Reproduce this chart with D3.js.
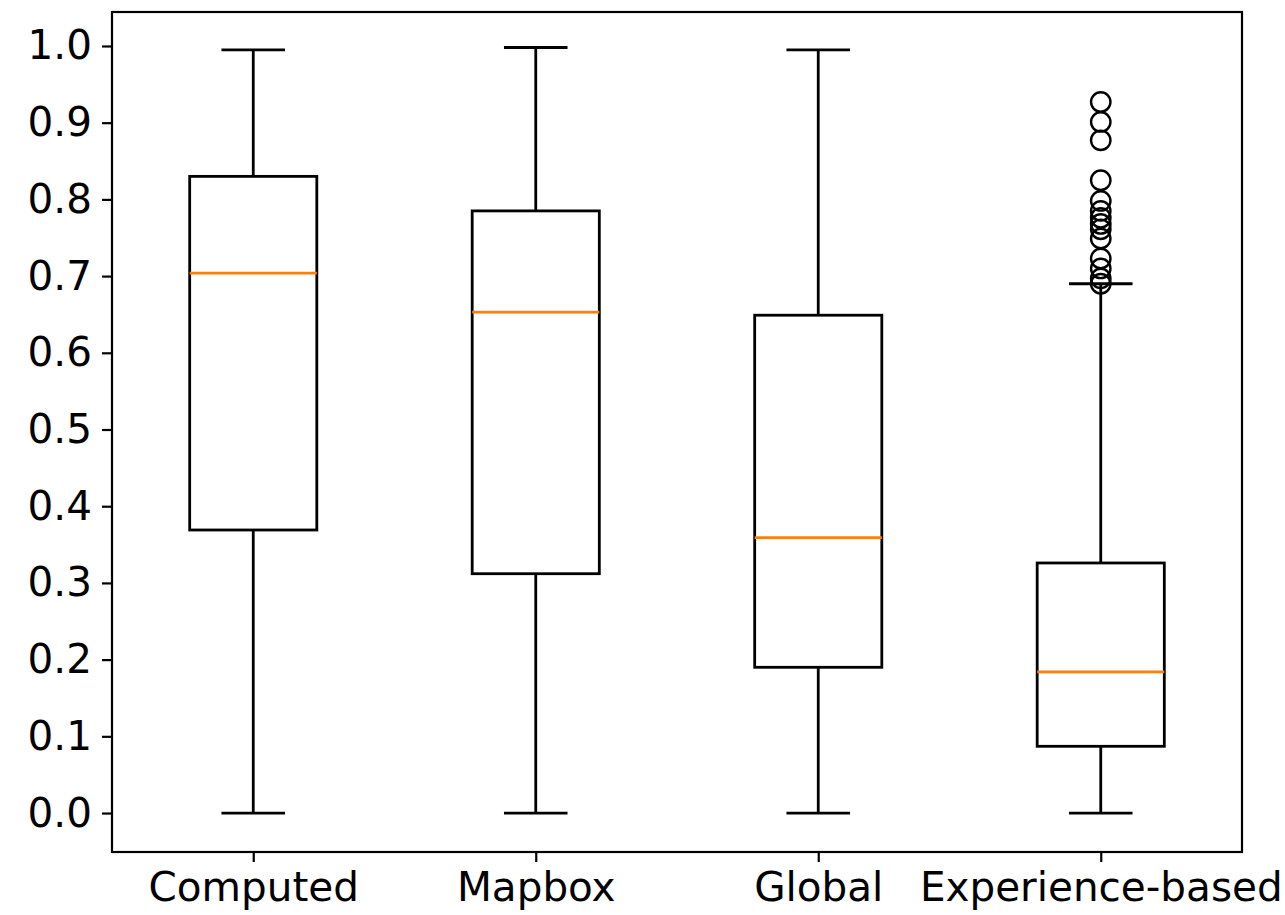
<!DOCTYPE html>
<html><head><meta charset="utf-8">
<script src="https://cdn.jsdelivr.net/npm/d3@7"></script>
<style>body{margin:0;background:#fff}svg{display:block}text{font-family:"DejaVu Sans",sans-serif;fill:#000}</style>
</head><body>
<svg id="c" width="1285" height="915"></svg>
<script>
const categories = ["Computed", "Mapbox", "Global", "Experience-based"];
const whiskerLow = [0.0, 0.0, 0.0, 0.0];
const q1 = [0.369, 0.312, 0.190, 0.087];
const medians = [0.704, 0.653, 0.359, 0.184];
const q3 = [0.830, 0.785, 0.649, 0.326];
const whiskerHigh = [0.995, 0.998, 0.995, 0.690];
const outliersExp = [0.927, 0.901, 0.877, 0.825, 0.798, 0.785, 0.776, 0.768, 0.761, 0.749, 0.723, 0.710, 0.697, 0.690];
const yTicks = [0.0, 0.1, 0.2, 0.3, 0.4, 0.5, 0.6, 0.7, 0.8, 0.9, 1.0];

const svg = d3.select("#c");
const L = 112, R = 1242, T = 12, B = 852;
const x = d3.scaleLinear().domain([0.5, 4.5]).range([L, R]);
const y = d3.scaleLinear().domain([-0.0508, 1.0443]).range([B, T]);
const boxW = 0.45, capW = 0.225;

const data = categories.map((c, i) => ({c, pos: i + 1, lo: whiskerLow[i], q1: q1[i], med: medians[i], q3: q3[i], hi: whiskerHigh[i], out: i === 3 ? outliersExp : []}));

const g = svg.append("g");
data.forEach(d => {
  const lw = 2.8;
  g.append("line").attr("x1", x(d.pos)).attr("x2", x(d.pos)).attr("y1", y(d.q1)).attr("y2", y(d.lo)).attr("stroke", "#000").attr("stroke-width", lw);
  g.append("line").attr("x1", x(d.pos)).attr("x2", x(d.pos)).attr("y1", y(d.q3)).attr("y2", y(d.hi)).attr("stroke", "#000").attr("stroke-width", lw);
  [d.lo, d.hi].forEach(v => g.append("line").attr("x1", x(d.pos - capW / 2)).attr("x2", x(d.pos + capW / 2)).attr("y1", y(v)).attr("y2", y(v)).attr("stroke", "#000").attr("stroke-width", lw));
  g.append("rect").attr("x", x(d.pos - boxW / 2)).attr("width", x(d.pos + boxW / 2) - x(d.pos - boxW / 2))
    .attr("y", y(d.q3)).attr("height", y(d.q1) - y(d.q3)).attr("fill", "none").attr("stroke", "#000").attr("stroke-width", lw);
  g.append("line").attr("x1", x(d.pos - boxW / 2)).attr("x2", x(d.pos + boxW / 2)).attr("y1", y(d.med)).attr("y2", y(d.med)).attr("stroke", "#ff7f0e").attr("stroke-width", lw);
  g.selectAll(null).data(d.out).enter().append("circle").attr("cx", x(d.pos)).attr("cy", v => y(v)).attr("r", 9.7)
    .attr("fill", "none").attr("stroke", "#000").attr("stroke-width", 2.4);
});

svg.append("rect").attr("x", L).attr("y", T).attr("width", R - L).attr("height", B - T).attr("fill", "none").attr("stroke", "#000").attr("stroke-width", 2.2);

const yAxis = d3.axisLeft(y).tickValues(yTicks).tickFormat(d3.format(".1f")).tickSize(10).tickPadding(10);
const ya = svg.append("g").attr("transform", `translate(${L},0)`).call(yAxis);
ya.select(".domain").remove();
ya.selectAll(".tick line").attr("stroke", "#000").attr("stroke-width", 2.2);
ya.selectAll(".tick text").attr("font-size", 40.5).attr("font-family", "DejaVu Sans").attr("fill", "#000");

const xAxis = d3.axisBottom(x).tickValues([1, 2, 3, 4]).tickFormat((d) => categories[d - 1]).tickSize(10).tickPadding(10);
const xa = svg.append("g").attr("transform", `translate(0,${B})`).call(xAxis);
xa.select(".domain").remove();
xa.selectAll(".tick line").attr("stroke", "#000").attr("stroke-width", 2.2);
xa.selectAll(".tick text").attr("font-size", 40.5).attr("font-family", "DejaVu Sans").attr("fill", "#000");
</script>
</body></html>
